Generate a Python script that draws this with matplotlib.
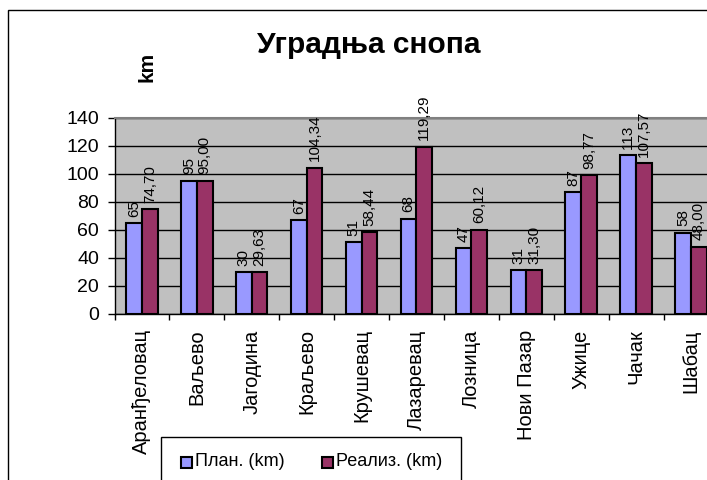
import matplotlib.pyplot as plt
from matplotlib.patches import Rectangle
import numpy as np

plt.rcParams['font.family'] = ['Liberation Sans', 'DejaVu Sans']

# Уградња снопа по пословницама
gradovi = ['Аранђеловац', 'Ваљево', 'Јагодина', 'Краљево', 'Крушевац', 'Лазаревац',
           'Лозница', 'Нови Пазар', 'Ужице', 'Чачак', 'Шабац']
plan = [65, 95, 30, 67, 51, 68, 47, 31, 87, 113, 58]
realizacija = [74.70, 95.00, 29.63, 104.34, 58.44, 119.29, 60.12, 31.30, 98.77, 107.57, 48.00]
y_ticks = [0, 20, 40, 60, 80, 100, 120, 140]

boja_plan = '#9999FF'
boja_real = '#993366'

W, H = 707, 480
fig = plt.figure(figsize=(W / 100, H / 100), dpi=100)

# okvir dijagrama (desna i donja ivica su van slike)
fig.patches.append(Rectangle((8 / W, -0.1), 1.2, 1 - 9.5 / H + 0.1, transform=fig.transFigure,
                             fill=False, edgecolor='black', linewidth=1))

ax = fig.add_axes([114.5 / W, 1 - 314 / H, (718.4 - 114.5) / W, (314 - 117.5) / H])
ax.set_facecolor('#C0C0C0')

x = np.arange(len(gradovi))
sirina = 1 / 3.5  # gap width 150%
b1 = ax.bar(x - sirina / 2, plan, sirina, color=boja_plan, edgecolor='black', linewidth=1.5,
            label='План. (km)', zorder=3)
b2 = ax.bar(x + sirina / 2, realizacija, sirina, color=boja_real, edgecolor='black', linewidth=1.5,
            label='Реализ. (km)', zorder=3)

ax.bar_label(b1, labels=[f'{v:d}' for v in plan], rotation=90, padding=4.5, fontsize=11)
ax.bar_label(b2, labels=[f'{v:.2f}'.replace('.', ',') for v in realizacija], rotation=90,
             padding=4.5, fontsize=11)

ax.set_xlim(-0.5, len(gradovi) - 0.5)
ax.set_ylim(0, 140)
ax.set_yticks(y_ticks)
ax.yaxis.grid(True, color='black', linewidth=1, zorder=0)
ax.set_axisbelow(True)

ax.set_xticks(x)
ax.set_xticklabels(gradovi, rotation=90, fontsize=14.5)
ax.set_xticks(np.arange(len(gradovi) + 1) - 0.5, minor=True)
ax.tick_params(axis='x', which='major', length=0, pad=11)
ax.tick_params(axis='x', which='minor', length=4, width=1, direction='out')
ax.tick_params(axis='y', labelsize=14, length=5, width=1, pad=6)

ax.spines['top'].set_color('#808080')
ax.spines['top'].set_linewidth(1.5)
ax.spines['right'].set_visible(False)
ax.spines['left'].set_linewidth(1)
ax.spines['bottom'].set_linewidth(1)

fig.text(369 / W, 1 - 45 / H, 'Уградња снопа', ha='center', va='center',
         fontsize=21.5, fontweight='bold')
fig.text(147 / W, 1 - 67 / H, 'km', ha='center', va='center', rotation=90,
         fontsize=15, fontweight='bold')

# legenda
fig.patches.append(Rectangle((161 / W, -0.1), 300 / W, 1 - 437 / H + 0.1, transform=fig.transFigure,
                             facecolor='white', edgecolor='black', linewidth=1))
for x0, boja, tekst in [(181, boja_plan, b1.get_label()), (322, boja_real, b2.get_label())]:
    fig.patches.append(Rectangle((x0 / W, 1 - 468 / H), 11 / W, 11 / H, transform=fig.transFigure,
                                 facecolor=boja, edgecolor='black', linewidth=1.5))
    fig.text((x0 + 14) / W, 1 - 462 / H, tekst, ha='left', va='center', fontsize=13)

fig.savefig('out.png', dpi=100)
